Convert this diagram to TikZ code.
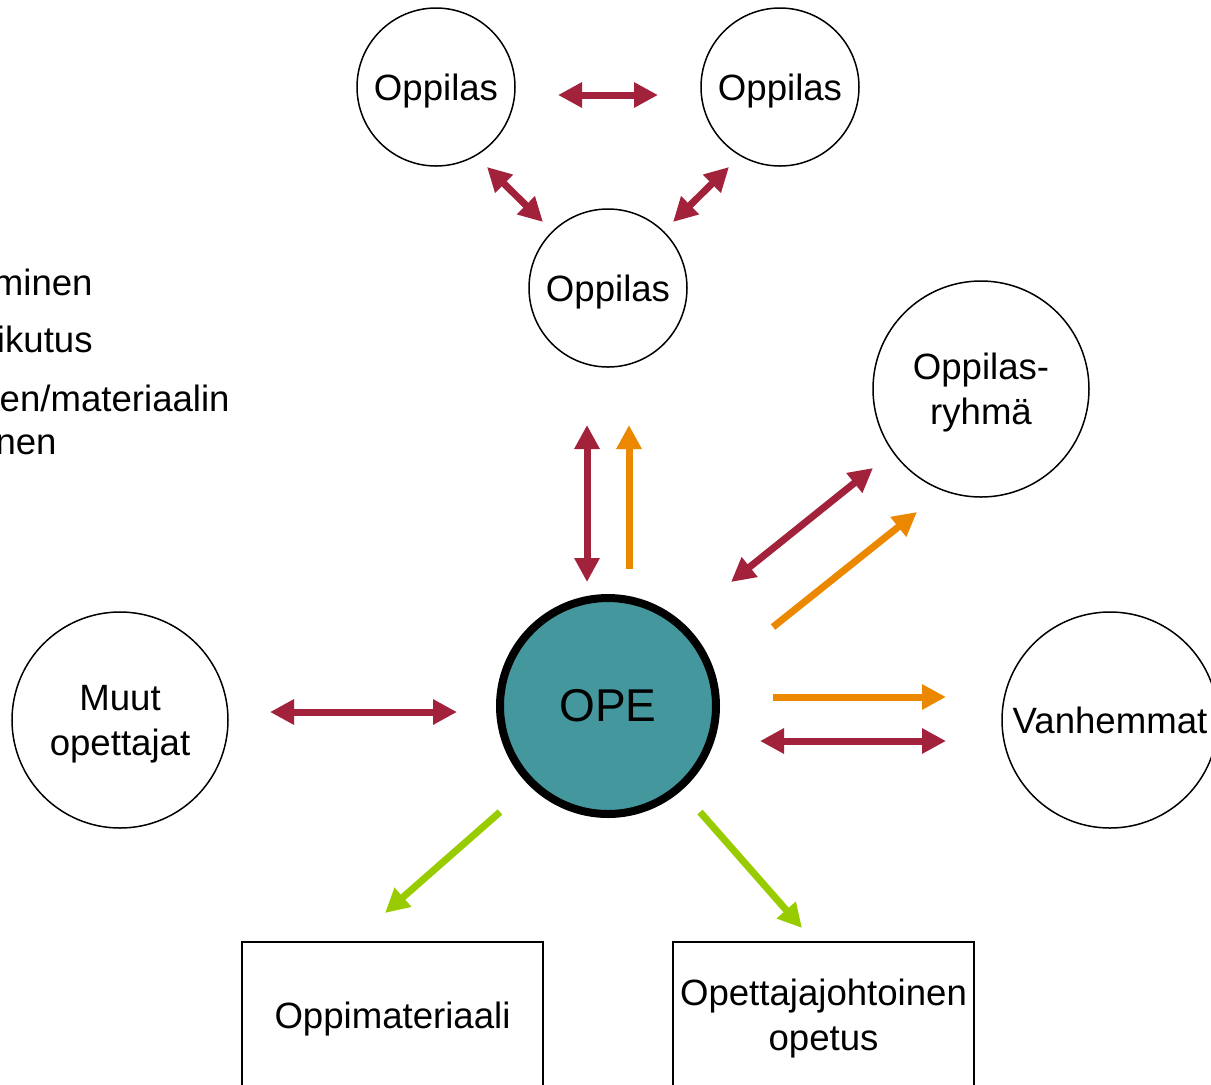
\documentclass[tikz,border=0pt]{standalone}
\usepackage{fontspec}
\setmainfont{Liberation Sans}
\usetikzlibrary{arrows.meta}
\definecolor{ruby}{HTML}{A2213B}
\definecolor{amber}{HTML}{EC8800}
\definecolor{lime}{HTML}{99CC00}
\definecolor{teal}{HTML}{45979E}
\begin{document}
\begin{tikzpicture}[x=0.5pt,y=-0.5pt,
	ball/.style = {draw, circle, line width=0.75pt, minimum size=79pt, inner sep=0pt, text depth=0pt, align=center, font=\fontsize{18.3}{22.5}\selectfont},
	bigball/.style = {ball, minimum size=108pt},
	card/.style = {draw, rectangle, line width=0.75pt, minimum width=150.5pt, minimum height=73pt, inner sep=0pt, text depth=0pt, align=center, font=\fontsize{18.3}{22.5}\selectfont},
	legend/.style = {anchor=base east, inner sep=0pt, font=\fontsize{18.3}{22.5}\selectfont},
	twoway/.style = {line width=3.5pt, {Triangle[length=12pt,width=12pt]}-{Triangle[length=12pt,width=12pt]}},
	oneway/.style = {line width=3.5pt, -{Triangle[length=12pt,width=12pt]}}]
	\useasboundingbox (0,0) rectangle (1211,1084);
	\clip (0,0) rectangle (1211,1084);
	
	% legend, cut at the left edge
	\node[legend] (l1) at (93,295) {minen};
	\node[legend] (l2) at (93,352) {ikutus};
	\node[legend] (l3) at (230,411) {en/materiaalin};
	\node[legend] (l4) at (57,454) {nen};
	
	\node[ball] (oppL) at (436,87) {Oppilas};
	\node[ball] (oppR) at (780,87) {Oppilas};
	\node[ball] (oppM) at (608,288) {Oppilas};
	\node[bigball] (group) at (981,389) {Oppilas-\\ryhmä};
	\node[bigball] (parents) at (1110,720) {Vanhemmat};
	\node[bigball] (others) at (120,720) {Muut\\opettajat};
	\node[circle, draw, line width=4pt, fill=teal, minimum size=108pt, inner sep=0pt, font=\fontsize{23}{27}\selectfont] (ope) at (608,706) {OPE};
	\node[card] (material) at (392.5,1015) {Oppimateriaali};
	\node[card] (teaching) at (823.5,1015) {Opettajajohtoinen\\opetus};
	
	% arrow ends
	\coordinate (a1) at (558,95); \coordinate (a2) at (658,95);
	\coordinate (b1) at (487,167); \coordinate (b2) at (543,222);
	\coordinate (c1) at (729,167); \coordinate (c2) at (673,222);
	\coordinate (d1) at (587,425); \coordinate (d2) at (587,582);
	\coordinate (e1) at (629,569); \coordinate (e2) at (629,425);
	\coordinate (f1) at (731,582); \coordinate (f2) at (873,468);
	\coordinate (g1) at (773,627); \coordinate (g2) at (917,512);
	\coordinate (h1) at (773,697); \coordinate (h2) at (946,697);
	\coordinate (i1) at (760,741); \coordinate (i2) at (946,741);
	\coordinate (j1) at (270,712); \coordinate (j2) at (457,712);
	\coordinate (k1) at (500,812); \coordinate (k2) at (385,913);
	\coordinate (m1) at (700,812); \coordinate (m2) at (802,928);
	
	\draw[twoway, ruby] (a1)--(a2);
	\draw[twoway, ruby] (b1)--(b2);
	\draw[twoway, ruby] (c1)--(c2);
	\draw[twoway, ruby] (d1)--(d2);
	\draw[oneway, amber] (e1)--(e2);
	\draw[twoway, ruby] (f1)--(f2);
	\draw[oneway, amber] (g1)--(g2);
	\draw[oneway, amber] (h1)--(h2);
	\draw[twoway, ruby] (i1)--(i2);
	\draw[twoway, ruby] (j1)--(j2);
	\draw[oneway, lime] (k1)--(k2);
	\draw[oneway, lime] (m1)--(m2);
	
\end{tikzpicture}
\end{document}
